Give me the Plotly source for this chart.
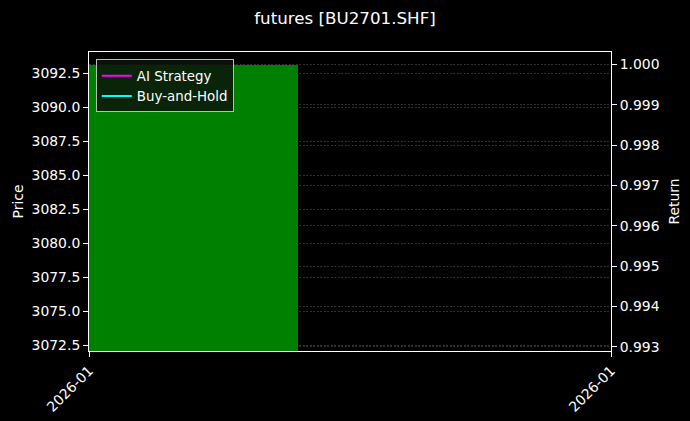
import plotly.graph_objects as go

# ---- data ----
dates = ["2026-01"]
open_px = [3072.0]
close_px = [3093.1]
ai_strategy = [1.0]
buy_hold = [1.0]
x_tick_labels = ["2026-01", "2026-01"]

FONT = "DejaVu Sans"
FS = 13.9
idx = list(range(len(dates)))

fig = go.Figure()
fig.add_trace(go.Bar(
    x=idx, y=[c - o for o, c in zip(open_px, close_px)], base=open_px,
    width=0.4, marker=dict(color="#008000", line=dict(width=0)),
    showlegend=False, yaxis="y", hoverinfo="skip",
))
fig.add_trace(go.Scatter(x=idx, y=ai_strategy, mode="lines", name="AI Strategy",
                         line=dict(color="#ff00ff", width=2), yaxis="y2"))
fig.add_trace(go.Scatter(x=idx, y=buy_hold, mode="lines", name="Buy-and-Hold",
                         line=dict(color="#00ffff", width=2), yaxis="y2"))

grid = "rgba(120,120,120,0.4)"
fig.update_layout(
    width=690, height=421,
    paper_bgcolor="black", plot_bgcolor="black",
    font=dict(family=FONT, color="white", size=FS),
    margin=dict(l=88.5, r=78.5, t=51.7, b=70),
    title=dict(text="futures [BU2701.SHF]", x=0.5, xanchor="center", y=0.957,
               yanchor="middle", font=dict(size=16.7, color="white", family=FONT)),
    bargap=0,
    xaxis=dict(
        range=[-0.2, 0.8], tickmode="array", tickvals=[-0.2, 0.8], ticktext=x_tick_labels,
        tickangle=-45, showgrid=False, zeroline=False, automargin=False,
        showline=True, linecolor="white", linewidth=1, mirror=True,
        ticks="outside", tickcolor="white", ticklen=5, tickfont=dict(size=FS),
    ),
    yaxis=dict(
        title=dict(text="Price", font=dict(size=FS), standoff=4),
        range=[3072.06, 3094.07], tickmode="array", automargin=False,
        tickvals=[3072.5, 3075, 3077.5, 3080, 3082.5, 3085, 3087.5, 3090, 3092.5],
        ticktext=["3072.5", "3075.0", "3077.5", "3080.0", "3082.5", "3085.0",
                  "3087.5", "3090.0", "3092.5"],
        showgrid=True, gridcolor=grid, griddash="2px,1.5px", gridwidth=0.5, zeroline=False,
        showline=True, linecolor="white", linewidth=1,
        ticks="outside", tickcolor="white", ticklen=5, tickfont=dict(size=FS),
    ),
    yaxis2=dict(
        title=dict(text="Return", font=dict(size=FS), standoff=10),
        overlaying="y", side="right", automargin=False,
        range=[0.992894, 1.000312], tickmode="array",
        tickvals=[0.993, 0.994, 0.995, 0.996, 0.997, 0.998, 0.999, 1.000],
        ticktext=["0.993", "0.994", "0.995", "0.996", "0.997", "0.998", "0.999", "1.000"],
        showgrid=True, gridcolor=grid, griddash="2px,1.5px", gridwidth=0.5, zeroline=False,
        showline=True, linecolor="white", linewidth=1,
        ticks="outside", tickcolor="white", ticklen=5, tickfont=dict(size=FS),
    ),
    legend=dict(
        x=0.013, y=0.975, xanchor="left", yanchor="top",
        bgcolor="rgba(12,20,12,0.85)", bordercolor="#bbbbbb", borderwidth=1,
        font=dict(size=FS - 0.5, color="white"), itemwidth=30, tracegroupgap=0,
    ),
)

fig.write_html(
    "out.html",
    config={"displayModeBar": False},
    post_script="document.body.style.margin='0';document.body.style.background='black';",
)
